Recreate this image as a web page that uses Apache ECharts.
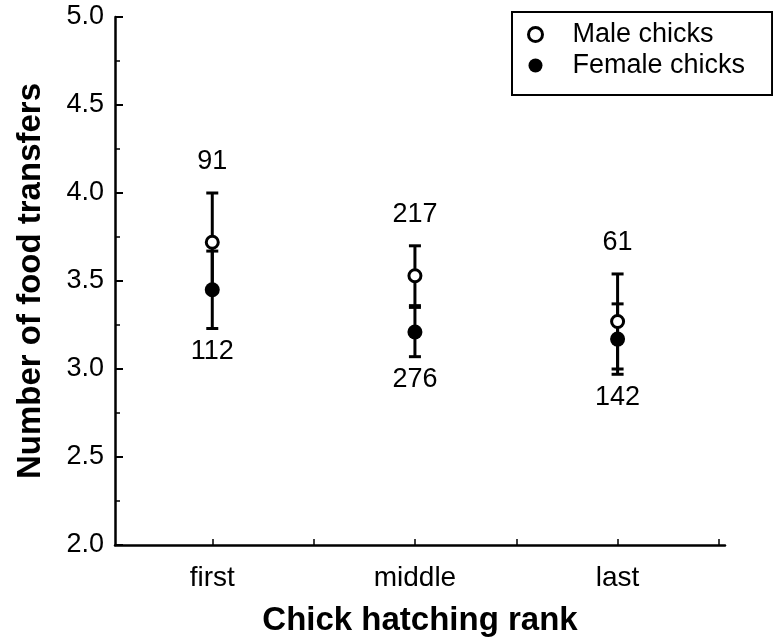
<!DOCTYPE html>
<html><head><meta charset="utf-8">
<script src="https://cdn.jsdelivr.net/npm/echarts@6/dist/echarts.min.js"></script>
<style>html,body{margin:0;padding:0;background:#fff}#c{width:773px;height:643px}</style>
</head><body><div id="c"></div>
<script>
const categories = ['first', 'middle', 'last'];
const maleMean = [3.72, 3.53, 3.27];
const maleSE = [0.28, 0.17, 0.27];
const femaleMean = [3.45, 3.21, 3.17];
const femaleSE = [0.22, 0.14, 0.20];
const maleN = [91, 217, 61];
const femaleN = [112, 276, 142];
const yTicks = ['2.0', '2.5', '3.0', '3.5', '4.0', '4.5', '5.0'];

const font = '"Liberation Sans", Arial, Helvetica, sans-serif';
const chart = echarts.init(document.getElementById('c'));
const xPos = categories.map((c, i) => i + 1);

function errData(mean, se, n) {
  return mean.map((m, i) => [xPos[i], m, m - se[i], m + se[i], n[i]]);
}
function renderErr(dir) {
  return function (params, api) {
    const x = api.value(0);
    const lo = api.coord([x, api.value(2)]);
    const hi = api.coord([x, api.value(3)]);
    const cw = 6;
    const style = { stroke: '#000', lineWidth: 3 };
    const lp = dir < 0 ? hi : lo;
    return {
      type: 'group',
      children: [
        { type: 'line', shape: { x1: lo[0], y1: lo[1], x2: hi[0], y2: hi[1] }, style: style },
        { type: 'line', shape: { x1: hi[0] - cw, y1: hi[1], x2: hi[0] + cw, y2: hi[1] }, style: style },
        { type: 'line', shape: { x1: lo[0] - cw, y1: lo[1], x2: lo[0] + cw, y2: lo[1] }, style: style },
        { type: 'text', style: { text: String(api.value(4)), x: lp[0], y: lp[1] + (dir < 0 ? -31 : 23),
          align: 'center', verticalAlign: 'middle', font: '27px ' + font, fill: '#000' } }
      ]
    };
  };
}

chart.setOption({
  animation: false,
  backgroundColor: '#fff',
  grid: { left: 115, right: 48, top: 17, bottom: 98, outerBoundsMode: 'none', containLabel: false },
  legend: {
    left: 512, top: 12, orient: 'vertical',
    padding: [9, 27, 16, 15],
    borderColor: '#000', borderWidth: 2,
    itemWidth: 30, itemHeight: 14, itemGap: 4,
    textStyle: { fontFamily: font, fontSize: 27, color: '#000', padding: [0, 0, 0, 17] },
    data: [
      { name: 'Male chicks', icon: 'circle', itemStyle: { color: '#fff', borderColor: '#000', borderWidth: 3 } },
      { name: 'Female chicks', icon: 'circle', itemStyle: { color: '#000', borderColor: '#000', borderWidth: 0 } }
    ]
  },
  xAxis: {
    type: 'value', min: 0.52, max: 3.53,
    name: 'Chick hatching rank', nameLocation: 'middle', nameGap: 59,
    nameTextStyle: { fontFamily: font, fontSize: 33, fontWeight: 'bold', color: '#000' },
    axisLine: { lineStyle: { color: '#000', width: 2.5 } },
    axisTick: { inside: true, length: 6, lineStyle: { color: '#000', width: 1.5 }, customValues: [1, 1.5, 2, 2.5, 3, 3.5] },
    axisLabel: { customValues: [1, 2, 3], formatter: v => categories[Math.round(v) - 1] || '',
      fontFamily: font, fontSize: 28, color: '#000', margin: 19 },
    splitLine: { show: false }
  },
  yAxis: {
    type: 'value', min: 2, max: 5, interval: 0.5,
    name: 'Number of food transfers', nameLocation: 'middle', nameGap: 68,
    nameTextStyle: { fontFamily: font, fontSize: 33, fontWeight: 'bold', color: '#000' },
    axisLine: { show: true, lineStyle: { color: '#000', width: 2.5 } },
    axisTick: { show: true, inside: true, length: 8, lineStyle: { color: '#000', width: 2 } },
    minorTick: { show: true, splitNumber: 2, length: 5, lineStyle: { color: '#000', width: 1.5 } },
    axisLabel: { formatter: v => yTicks[Math.round((v - 2) * 2)], fontFamily: font, fontSize: 27, color: '#000', margin: 11 },
    splitLine: { show: false }
  },
  series: [
    { type: 'custom', name: 'maleErr', renderItem: renderErr(-1), data: errData(maleMean, maleSE, maleN), z: 2 },
    { type: 'custom', name: 'femaleErr', renderItem: renderErr(1), data: errData(femaleMean, femaleSE, femaleN), z: 2 },
    { type: 'scatter', name: 'Female chicks', symbol: 'circle', symbolSize: 15, z: 3,
      itemStyle: { color: '#000', opacity: 1 }, data: xPos.map((x, i) => [x, femaleMean[i]]) },
    { type: 'scatter', name: 'Male chicks', symbol: 'circle', symbolSize: 12, z: 4,
      itemStyle: { color: '#fff', borderColor: '#000', borderWidth: 3, opacity: 1 }, data: xPos.map((x, i) => [x, maleMean[i]]) }
  ]
});
</script>
</body></html>
